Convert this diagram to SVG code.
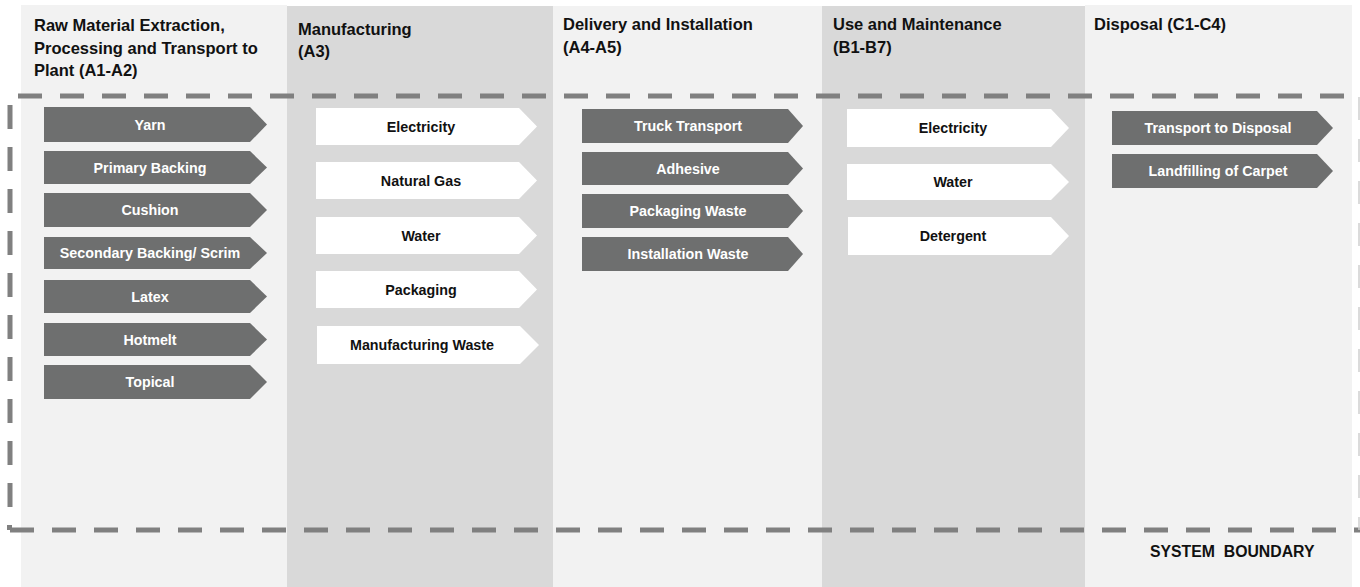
<svg xmlns="http://www.w3.org/2000/svg" width="1360" height="587" viewBox="0 0 1360 587">
<style>
.light{fill:#f2f2f2}
.dark{fill:#d9d9d9}
.hd{font-family:"Liberation Sans",Arial,sans-serif;font-weight:bold;font-size:16.5px;fill:#111}
.ad{fill:#6e6f6f}
.aw{fill:#ffffff}
.tw{font-family:"Liberation Sans",Arial,sans-serif;font-weight:bold;font-size:14.3px;fill:#ffffff;text-anchor:middle}
.tb{font-family:"Liberation Sans",Arial,sans-serif;font-weight:bold;font-size:14.3px;fill:#111;text-anchor:middle}
.bd{stroke:#808080;stroke-width:5;fill:none;stroke-dasharray:24 18}
</style>
<rect x="0" y="0" width="1360" height="587" fill="#ffffff"/>
<g id="columns">
<rect class="light" x="21" y="5" width="266" height="582"/>
<rect class="dark" x="287" y="6" width="266" height="581"/>
<rect class="light" x="553" y="6" width="269" height="581"/>
<rect class="dark" x="822" y="6" width="263" height="581"/>
<rect class="light" x="1085" y="5" width="267" height="582"/>
</g>
<g id="headers">
<text class="hd" x="34" y="31">Raw Material Extraction,</text>
<text class="hd" x="34" y="54">Processing and Transport to</text>
<text class="hd" x="34" y="76">Plant (A1-A2)</text>
<text class="hd" x="298" y="35">Manufacturing</text>
<text class="hd" x="298" y="57">(A3)</text>
<text class="hd" x="563" y="30">Delivery and Installation</text>
<text class="hd" x="563" y="53">(A4-A5)</text>
<text class="hd" x="833" y="30">Use and Maintenance</text>
<text class="hd" x="833" y="53">(B1-B7)</text>
<text class="hd" x="1094" y="30">Disposal (C1-C4)</text>
</g>
<g id="connectors">
<line class="bd" x1="18" y1="96" x2="1344" y2="96"/>
<line class="bd" x1="10" y1="105" x2="10" y2="507" stroke-dasharray="23 19"/>
<line class="bd" x1="10" y1="530" x2="1360" y2="530"/>
<rect x="7" y="525" width="5" height="5" fill="#808080"/>
<line x1="1359" y1="97" x2="1359" y2="530" stroke="#cfcfcf" stroke-width="1.5" stroke-dasharray="23 19"/>
</g>
<g id="raw-materials">
<g id="n-yarn"><path class="ad" d="M44,107H250L267,124.5L250,142H44Z"/><text class="tw" x="150" y="129.5">Yarn</text></g>
<g id="n-primary"><path class="ad" d="M44,151H250L267,167.5L250,184H44Z"/><text class="tw" x="150" y="172.5">Primary Backing</text></g>
<g id="n-cushion"><path class="ad" d="M44,193H250L267,210L250,227H44Z"/><text class="tw" x="150" y="215">Cushion</text></g>
<g id="n-secondary"><path class="ad" d="M44,237H250L267,253L250,269H44Z"/><text class="tw" x="150" y="258">Secondary Backing/ Scrim</text></g>
<g id="n-latex"><path class="ad" d="M44,280H250L267,296.5L250,313H44Z"/><text class="tw" x="150" y="301.5">Latex</text></g>
<g id="n-hotmelt"><path class="ad" d="M44,323H250L267,339.5L250,356H44Z"/><text class="tw" x="150" y="344.5">Hotmelt</text></g>
<g id="n-topical"><path class="ad" d="M44,365H250L267,382L250,399H44Z"/><text class="tw" x="150" y="387">Topical</text></g>
</g>
<g id="manufacturing">
<g id="n-m-elec"><path class="aw" d="M316,108H519L537,126.5L519,145H316Z"/><text class="tb" x="421" y="131.5">Electricity</text></g>
<g id="n-m-gas"><path class="aw" d="M316,162H519L537,180.5L519,199H316Z"/><text class="tb" x="421" y="185.5">Natural Gas</text></g>
<g id="n-m-water"><path class="aw" d="M316,217H519L537,235.5L519,254H316Z"/><text class="tb" x="421" y="240.5">Water</text></g>
<g id="n-m-pack"><path class="aw" d="M316,271H519L537,289.5L519,308H316Z"/><text class="tb" x="421" y="294.5">Packaging</text></g>
<g id="n-m-waste"><path class="aw" d="M317,326H520L539,345L520,364H317Z"/><text class="tb" x="422" y="350">Manufacturing Waste</text></g>
</g>
<g id="delivery">
<g id="n-truck"><path class="ad" d="M582,109H788L803,126L788,143H582Z"/><text class="tw" x="688" y="131">Truck Transport</text></g>
<g id="n-adhesive"><path class="ad" d="M582,152H788L803,168.5L788,185H582Z"/><text class="tw" x="688" y="173.5">Adhesive</text></g>
<g id="n-packwaste"><path class="ad" d="M582,194H788L803,211L788,228H582Z"/><text class="tw" x="688" y="216">Packaging Waste</text></g>
<g id="n-instwaste"><path class="ad" d="M582,237H788L803,254L788,271H582Z"/><text class="tw" x="688" y="259">Installation Waste</text></g>
</g>
<g id="use">
<g id="n-u-elec"><path class="aw" d="M847,109H1051L1069,128L1051,147H847Z"/><text class="tb" x="953" y="133">Electricity</text></g>
<g id="n-u-water"><path class="aw" d="M847,164H1051L1069,182L1051,200H847Z"/><text class="tb" x="953" y="187">Water</text></g>
<g id="n-u-det"><path class="aw" d="M848,217H1051L1069,236L1051,255H848Z"/><text class="tb" x="953" y="241">Detergent</text></g>
</g>
<g id="disposal">
<g id="n-transport-disp"><path class="ad" d="M1112,111H1317L1333,128L1317,145H1112Z"/><text class="tw" x="1218" y="133">Transport to Disposal</text></g>
<g id="n-landfill"><path class="ad" d="M1112,154H1317L1333,171L1317,188H1112Z"/><text class="tw" x="1218" y="176">Landfilling of Carpet</text></g>
</g>
<text class="hd" x="1150" y="557" font-size="15.8" xml:space="preserve" style="font-size:15.8px">SYSTEM  BOUNDARY</text>
</svg>
